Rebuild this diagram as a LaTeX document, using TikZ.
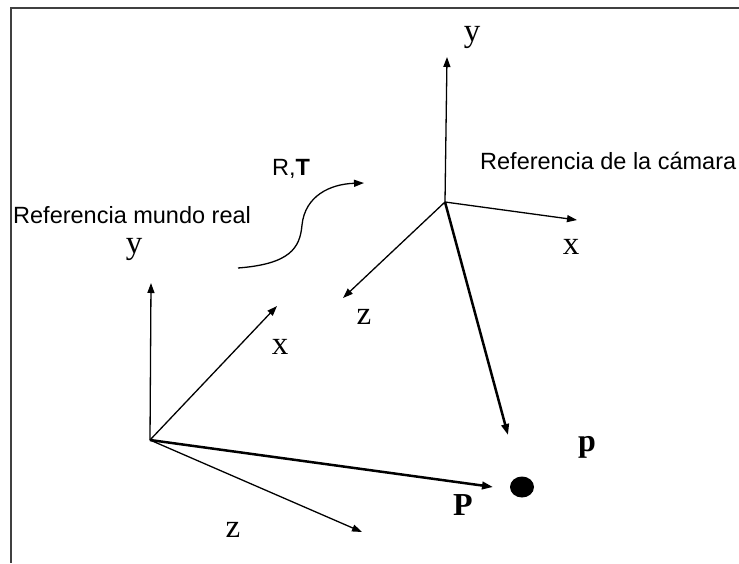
\documentclass[tikz,border=0pt]{standalone}
\usepackage{fontspec}
\setmainfont{Liberation Serif}
\newfontfamily\arialfont{Liberation Sans}
\usetikzlibrary{arrows.meta,shapes.geometric}

\begin{document}
\begin{tikzpicture}[
  x=1pt, y=-1pt,
  ax/.style={-{Triangle[length=10pt,width=7pt]}, line width=1.3pt},
  ray/.style={-{Triangle[length=11pt,width=7.5pt]}, line width=2.5pt},
  lab/.style={font=\fontsize{33}{33}\selectfont, inner sep=0pt, anchor=base},
  txt/.style={font=\arialfont\fontsize{23.5}{23.5}\selectfont, inner sep=0pt, anchor=base west}
]
  \useasboundingbox (0,0) rectangle (739,563);
  % marco
  \draw[line width=1.3pt, black!75] (739,8) -- (11,8) -- (11,563);

  % origenes y extremos de los ejes
  \coordinate (w) at (150,440);
  \coordinate (wy) at (151,283);
  \coordinate (wx) at (277,306);
  \coordinate (wz) at (362,532);
  \coordinate (c) at (445,202);
  \coordinate (cy) at (447,57);
  \coordinate (cx) at (577,220);
  \coordinate (cz) at (343,298);
  \coordinate (wP) at (493,487);
  \coordinate (cP) at (508,435);
  \node[ellipse, fill=black, minimum width=24pt, minimum height=21pt, inner sep=0pt] (pt) at (522,487) {};

  % ejes del mundo real
  \draw[ax] (w) -- (wy);
  \draw[ax] (w) -- (wx);
  \draw[ax] (w) -- (wz);
  % ejes de la camara
  \draw[ax] (c) -- (cy);
  \draw[ax] (c) -- (cx);
  \draw[ax] (c) -- (cz);
  % rayos al punto
  \draw[ray] (w) -- (wP);
  \draw[ray] (c) -- (cP);

  % transformacion R,T
  \coordinate (rtA) at (238,268);
  \coordinate (rtB) at (364,183);
  \draw[ax] (rtA) .. controls (290,264) and (300,248) .. (302,225)
                  .. controls (305,196) and (330,184) .. (rtB);

  % etiquetas
  \node[lab] (ly1) at (134,253) {y};
  \node[lab] (lx1) at (280,354) {x};
  \node[lab] (lz1) at (233,537) {z};
  \node[lab] (ly2) at (472,41) {y};
  \node[lab] (lx2) at (571,254) {x};
  \node[lab] (lz2) at (364,324) {z};
  \node[lab, font=\fontsize{32}{32}\selectfont\bfseries] (lP) at (463,515) {P};
  \node[lab, font=\fontsize{32}{32}\selectfont\bfseries] (lp) at (587,451) {p};
  \node[txt] (rt) at (272,175) {R,\textbf{T}};
  \node[txt] (refw) at (13,223) {Referencia mundo real};
  \node[txt] (refc) at (480,169) {Referencia de la cámara};
\end{tikzpicture}
\end{document}
